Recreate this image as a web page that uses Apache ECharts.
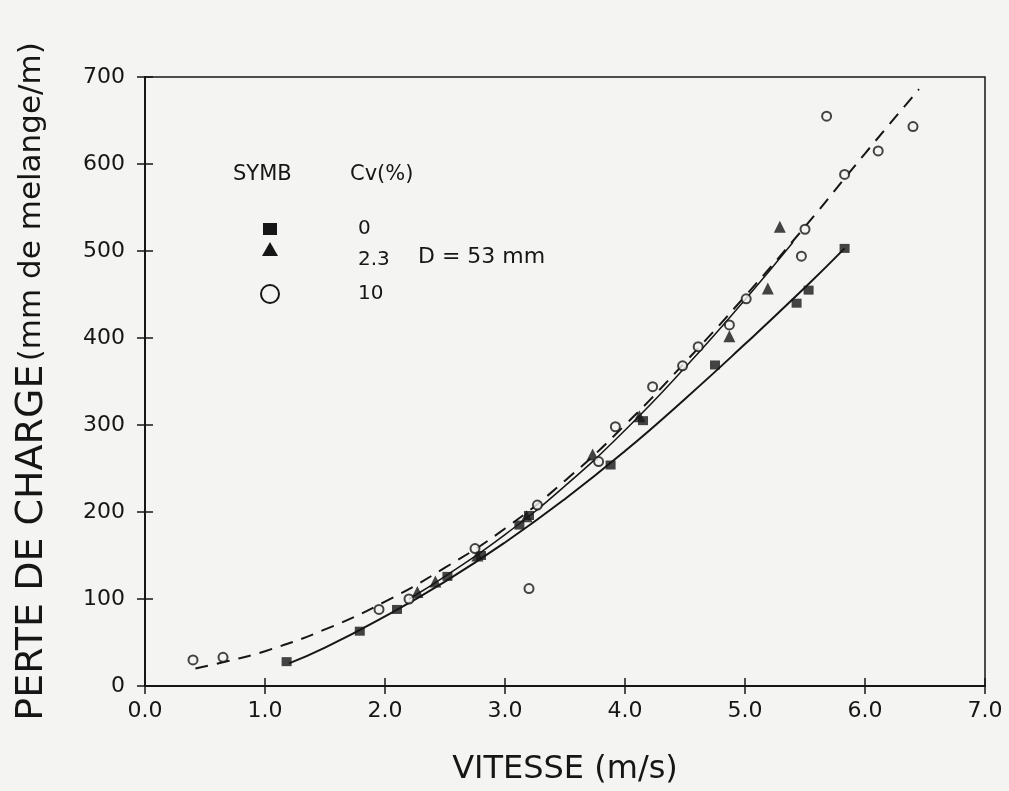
<!DOCTYPE html>
<html>
<head>
<meta charset="utf-8">
<script src="https://cdn.jsdelivr.net/npm/echarts@6/dist/echarts.min.js"></script>
<style>
  html, body { margin: 0; padding: 0; background: #f4f4f2; }
  #chart { width: 1009px; height: 791px; }
</style>
</head>
<body>
<div id="chart"></div>
<script>
// measured points, [vitesse m/s, perte de charge mm/m]
var cv0Points = [[1.18, 28], [1.79, 63], [2.1, 88], [2.52, 126], [2.8, 150], [3.12, 185], [3.2, 196],
  [3.88, 254], [4.15, 305], [4.75, 369], [5.43, 440], [5.53, 455], [5.83, 503]];
var cv23Points = [[2.27, 108], [2.42, 120], [2.77, 150], [3.18, 195], [3.73, 266], [4.12, 310],
  [4.87, 402], [5.19, 457], [5.29, 528]];
var cv10Points = [[0.4, 30], [0.65, 33], [1.95, 88], [2.2, 100], [2.75, 158], [3.2, 112], [3.27, 208],
  [3.78, 258], [3.92, 298], [4.23, 344], [4.48, 368], [4.61, 390], [4.87, 415], [5.01, 445],
  [5.47, 494], [5.5, 525], [5.68, 655], [5.83, 588], [6.11, 615], [6.4, 643]];

// fitted curves
var cv0Curve = [[1.2, 26], [1.5, 44], [2.0, 80], [2.5, 120], [3.0, 165], [3.5, 215], [4.0, 270],
  [4.5, 330], [5.0, 393], [5.5, 458], [5.83, 503]];
var cv23Curve = [[2.2, 100], [2.5, 126], [3.0, 174], [3.5, 230], [4.0, 294], [4.5, 366], [5.0, 444], [5.4, 510]];
var cv10Curve = [[0.42, 20], [0.7, 29], [1.0, 40], [1.5, 65], [2.0, 97], [2.5, 136], [3.0, 181], [3.5, 236],
  [4.0, 300], [4.5, 372], [5.0, 448], [5.5, 528], [6.0, 612], [6.45, 686]];

var xTicks = ['0.0', '1.0', '2.0', '3.0', '4.0', '5.0', '6.0', '7.0'];
var yTicks = [0, 100, 200, 300, 400, 500, 600, 700];

var ink = '#161616';
var font = 'DejaVu Sans';

var chart = echarts.init(document.getElementById('chart'));

function axisBase(extra) {
  var a = {
    type: 'value',
    splitLine: { show: false },
    axisLine: { show: false },
    axisTick: { show: true, inside: true, length: 8, lineStyle: { color: ink, width: 1.5 } },
    axisLabel: { show: false }
  };
  for (var k in extra) a[k] = extra[k];
  return a;
}

var option = {
  backgroundColor: '#f4f4f2',
  animation: false,
  grid: {
    left: 145, right: 24, top: 77, bottom: 105,
    show: true, borderColor: ink, borderWidth: 1.5, backgroundColor: 'transparent'
  },
  xAxis: [
    {
      type: 'value', min: 0, max: 7, interval: 1,
      name: 'VITESSE (m/s)', nameLocation: 'middle', nameGap: 68,
      nameTextStyle: { fontFamily: font, fontSize: 32, color: ink },
      axisLine: { show: true, onZero: false, lineStyle: { color: ink, width: 2 } },
      axisTick: { show: true, length: 8, lineStyle: { color: ink, width: 1.5 } },
      axisLabel: {
        fontFamily: font, fontSize: 22, color: ink, margin: 14,
        formatter: function (v) { return xTicks[Math.round(v)]; }
      },
      splitLine: { show: false }
    },
    axisBase({ min: 0, max: 7, interval: 1, position: 'bottom' }),
    axisBase({ min: 0, max: 7, interval: 1, position: 'top' })
  ],
  yAxis: [
    {
      type: 'value', min: 0, max: 700, interval: 100,
      name: '{a|PERTE DE CHARGE} {b|(mm de melange/m)}', nameLocation: 'middle', nameGap: 94,
      nameTextStyle: {
        rich: {
          a: { fontFamily: font, fontSize: 38, color: ink },
          b: { fontFamily: font, fontSize: 31, color: ink }
        }
      },
      axisLine: { show: true, onZero: false, lineStyle: { color: ink, width: 2 } },
      axisTick: { show: true, length: 8, lineStyle: { color: ink, width: 1.5 } },
      axisLabel: {
        fontFamily: font, fontSize: 22, color: ink, margin: 20,
        formatter: function (v) { return String(yTicks[Math.round(v / 100)]); }
      },
      splitLine: { show: false }
    },
    axisBase({ min: 0, max: 700, interval: 100, position: 'left' }),
    axisBase({ min: 0, max: 700, interval: 100, position: 'right' })
  ],
  graphic: [
    { type: 'text', left: 233, top: 164, style: { text: 'SYMB', font: '21px ' + font, fill: ink } },
    { type: 'text', left: 350, top: 164, style: { text: 'Cv(%)', font: '21px ' + font, fill: ink } },
    { type: 'rect', shape: { x: 263, y: 223, width: 14, height: 12 }, style: { fill: ink } },
    { type: 'polygon', shape: { points: [[270, 242], [262, 256], [278, 256]] }, style: { fill: ink } },
    { type: 'circle', shape: { cx: 270, cy: 294, r: 9 }, style: { fill: 'none', stroke: ink, lineWidth: 2 } },
    { type: 'text', left: 358, top: 219, style: { text: '0', font: '20px ' + font, fill: ink } },
    { type: 'text', left: 358, top: 250, style: { text: '2.3', font: '20px ' + font, fill: ink } },
    { type: 'text', left: 358, top: 284, style: { text: '10', font: '20px ' + font, fill: ink } },
    { type: 'text', left: 418, top: 246, style: { text: 'D = 53 mm', font: '22px ' + font, fill: ink } }
  ],
  series: [
    {
      name: 'Cv 0 courbe', type: 'line', smooth: true, showSymbol: false, data: cv0Curve,
      lineStyle: { color: ink, width: 2 }, z: 2
    },
    {
      name: 'Cv 2.3 courbe', type: 'line', smooth: true, showSymbol: false, data: cv23Curve,
      lineStyle: { color: ink, width: 1.5 }, z: 2
    },
    {
      name: 'Cv 10 courbe', type: 'line', smooth: true, showSymbol: false, data: cv10Curve,
      lineStyle: { color: ink, width: 2, type: [13, 9] }, z: 2
    },
    {
      name: 'Cv 0', type: 'scatter', symbol: 'rect', symbolSize: [10, 9], data: cv0Points,
      itemStyle: { color: ink }, z: 3
    },
    {
      name: 'Cv 2.3', type: 'scatter', symbol: 'triangle', symbolSize: 12, data: cv23Points,
      itemStyle: { color: ink }, z: 3
    },
    {
      name: 'Cv 10', type: 'scatter', symbol: 'circle', symbolSize: 9, data: cv10Points,
      itemStyle: { color: '#f4f4f2', borderColor: ink, borderWidth: 2 }, z: 4
    }
  ]
};

chart.setOption(option);
</script>
</body>
</html>
